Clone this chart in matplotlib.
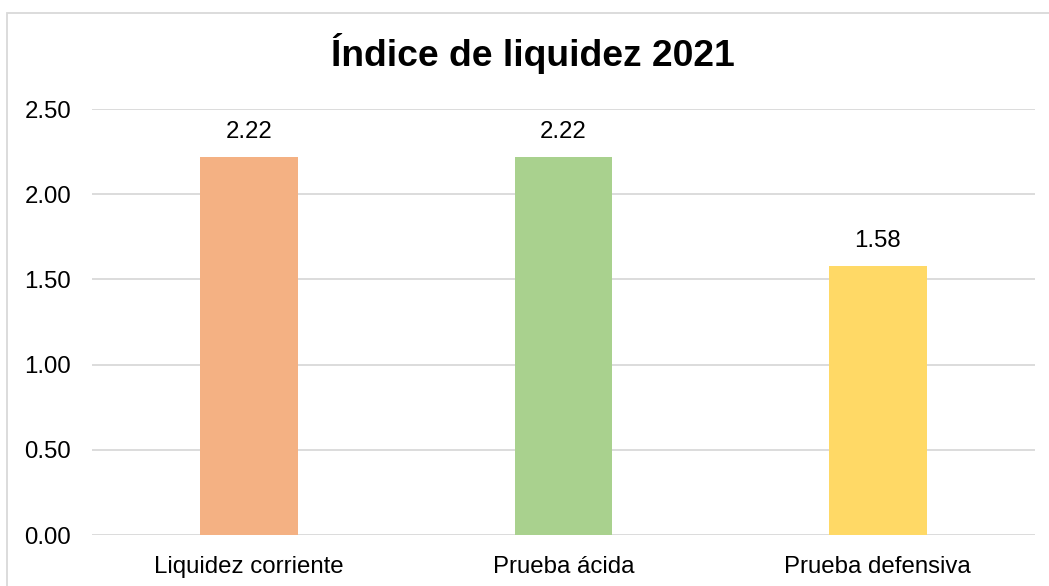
import matplotlib.pyplot as plt
from matplotlib.patches import Rectangle

categories = ['Liquidez corriente', 'Prueba ácida', 'Prueba defensiva']
values = [2.22, 2.22, 1.58]
colors = ['#F4B183', '#A9D18E', '#FFD966']
yticks = [0.0, 0.5, 1.0, 1.5, 2.0, 2.5]

plt.rcParams['font.family'] = ['Liberation Sans', 'DejaVu Sans']

W, H = 1049, 586
fig = plt.figure(figsize=(W / 100, H / 100), dpi=100)
ax = fig.add_axes([92 / W, 1 - 535 / H, (1035 - 92) / W, (535 - 109) / H])

x = range(len(categories))
bars = ax.bar(x, values, width=0.31, color=colors, zorder=3)
for b, v in zip(bars, values):
    ax.annotate(f'{v:.2f}', (b.get_x() + b.get_width() / 2, v),
                xytext=(0, 10), textcoords='offset points',
                ha='center', va='bottom', fontsize=17.3, color='#000000')

ax.set_xlim(-0.5, len(categories) - 0.5)
ax.set_ylim(0, 2.5)
ax.set_yticks(yticks)
ax.set_yticklabels([f'{t:.2f}' for t in yticks], fontsize=17.3)
ax.set_xticks(list(x))
ax.set_xticklabels(categories, fontsize=17.3)
ax.tick_params(axis='x', length=0, pad=15)
ax.tick_params(axis='y', length=0, pad=15)
ax.yaxis.grid(True, color='#D9D9D9', linewidth=1.3, zorder=0)
for s in ax.spines.values():
    s.set_visible(False)

fig.text(533 / W, 1 - 53 / H, 'Índice de liquidez 2021', ha='center', va='center',
         fontsize=26.8, fontweight='bold')

fig.patches.append(Rectangle((7 / W, -0.1), 1.2, 1 - 13 / H + 0.1,
                             transform=fig.transFigure, fill=False,
                             edgecolor='#D9D9D9', linewidth=1.3))

fig.savefig('out.png', dpi=100)
